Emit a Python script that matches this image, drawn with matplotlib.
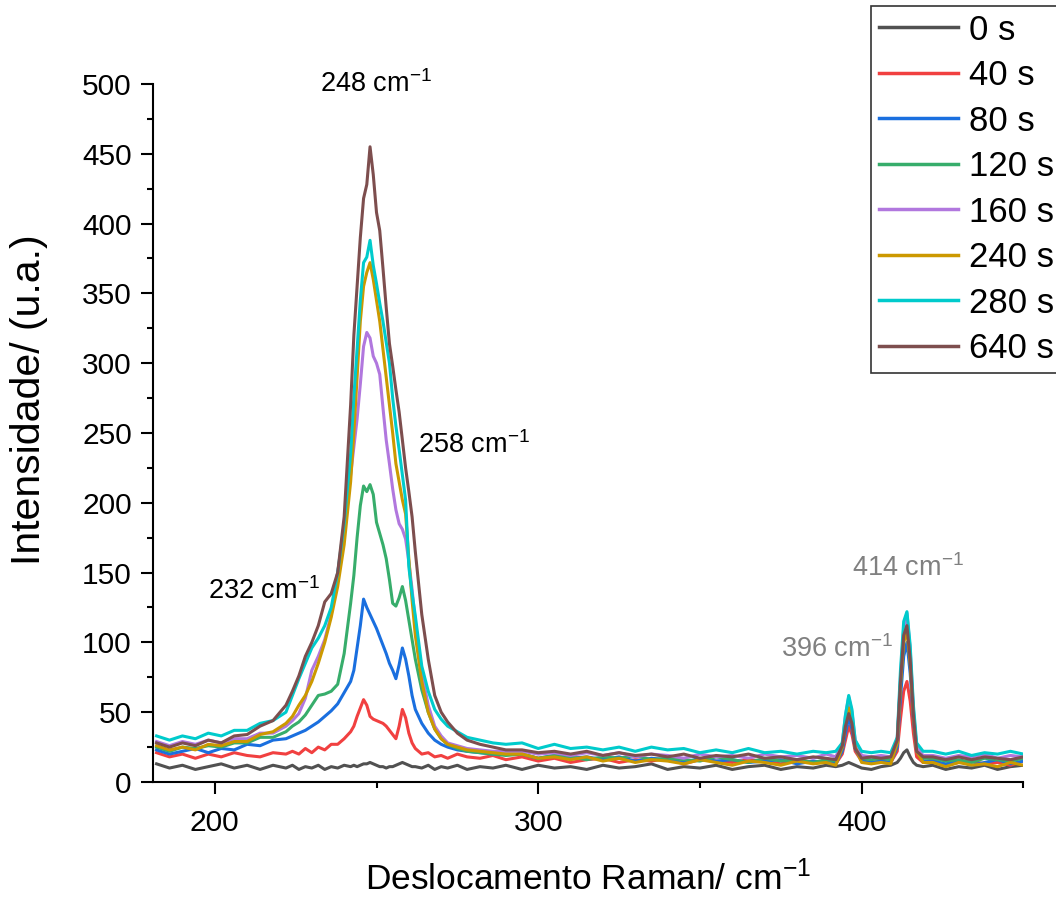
import numpy as np
import matplotlib
matplotlib.use('Agg')
import matplotlib.pyplot as plt
from matplotlib.ticker import MultipleLocator

plt.rcParams['font.family'] = ['Liberation Sans', 'DejaVu Sans']
plt.rcParams['mathtext.fontset'] = 'custom'
plt.rcParams['mathtext.rm'] = 'Liberation Sans'
plt.rcParams['mathtext.it'] = 'Liberation Sans'

# %% Data, shared Raman shift axis in cm-1
shift = [182, 186, 190, 194, 198, 202, 206, 210, 214, 218, 222,
         224, 226, 228, 230, 232, 234, 236, 238, 240,
         242, 243, 244, 245, 246, 247, 248, 249, 250, 251, 252, 253, 254, 255, 256, 257, 258, 259, 260, 261, 262,
         264, 266, 268, 270, 272, 275, 278, 282, 286, 290,
         295, 300, 305, 310, 315, 320, 325, 330, 335, 340, 345, 350, 355, 360, 365, 370, 375, 380, 385, 389, 392,
         394, 395, 396, 397, 398, 400, 403, 406, 409,
         411, 412, 413, 414, 415, 416, 417, 419,
         422, 426, 430, 434, 438, 442, 446, 450]

labels = ['0 s', '40 s', '80 s', '120 s', '160 s', '240 s', '280 s', '640 s']
colors = ['#515151', '#F14040', '#1A6FDF', '#37AD6B', '#B177DE', '#CC9900', '#00CBCC', '#7D4E4E']

s0 = [13, 10, 12, 9, 11, 13, 10, 12, 9, 12, 10,
      12, 9, 11, 10, 12, 9, 11, 10, 12,
      11, 12, 11, 12, 13, 13, 14, 13, 12, 11, 11, 10, 11, 11, 12, 13, 14, 13, 12, 11, 11,
      10, 12, 9, 11, 10, 12, 9, 11, 10, 12,
      9, 12, 10, 11, 9, 12, 10, 11, 13, 9, 11, 10, 12, 9, 11, 12, 9, 11, 10, 12, 11,
      12, 13, 14, 13, 12, 10, 9, 11, 12,
      14, 17, 21, 23, 18, 14, 12, 11,
      12, 9, 11, 10, 12, 9, 11, 12]

s40 = [21, 18, 20, 17, 20, 18, 21, 19, 18, 21, 20,
       22, 20, 24, 21, 25, 23, 27, 27, 31,
       36, 40, 47, 53, 59, 55, 47, 45, 44, 43, 42, 40, 37, 34, 31, 40, 52, 46, 35, 28, 24,
       20, 21, 18, 19, 17, 20, 18, 17, 19, 16,
       18, 15, 17, 14, 16, 17, 14, 16, 15, 17, 13, 16, 15, 14, 16, 15, 13, 16, 14, 15, 13,
       20, 30, 40, 34, 22, 15, 14, 15, 14,
       22, 45, 65, 72, 58, 35, 18, 14,
       16, 12, 14, 15, 13, 14, 12, 15]

s80 = [23, 20, 22, 24, 21, 24, 23, 27, 26, 30, 31,
       33, 35, 37, 40, 43, 47, 51, 56, 64,
       72, 80, 96, 112, 131, 125, 120, 115, 110, 104, 98, 92, 85, 80, 74, 84, 96, 88, 76, 62, 52,
       42, 35, 30, 27, 25, 23, 22, 21, 20, 20,
       20, 17, 19, 17, 18, 16, 18, 15, 17, 16, 14, 17, 15, 16, 14, 15, 16, 13, 15, 14, 13,
       22, 35, 46, 38, 24, 15, 14, 15, 14,
       25, 60, 90, 100, 78, 45, 22, 15,
       15, 13, 15, 12, 14, 16, 13, 15]

s120 = [25, 22, 25, 24, 26, 25, 28, 28, 32, 32, 36,
        40, 43, 48, 55, 62, 63, 65, 70, 92,
        128, 148, 175, 198, 212, 208, 213, 206, 186, 178, 170, 160, 145, 128, 126, 132, 140, 130, 116, 102, 88,
        66, 50, 38, 31, 27, 24, 22, 21, 20, 19,
        20, 17, 19, 18, 16, 18, 17, 19, 16, 17, 16, 15, 18, 16, 14, 17, 15, 16, 14, 16, 15,
        25, 42, 55, 45, 26, 17, 16, 17, 16,
        28, 70, 105, 115, 90, 50, 24, 17,
        17, 15, 16, 14, 17, 16, 15, 17]

s160 = [29, 26, 29, 27, 30, 28, 31, 31, 35, 35, 40,
        44, 49, 60, 80, 90, 102, 120, 150, 180,
        220, 240, 260, 285, 312, 322, 318, 305, 300, 292, 268, 245, 228, 210, 195, 185, 181, 174, 158, 138, 115,
        78, 55, 40, 33, 28, 26, 24, 23, 22, 22,
        22, 20, 21, 19, 21, 19, 21, 18, 20, 19, 17, 20, 18, 19, 17, 20, 18, 19, 17, 20, 18,
        28, 48, 61, 50, 30, 19, 18, 19, 18,
        30, 75, 110, 121, 95, 52, 25, 19,
        19, 17, 19, 18, 20, 17, 19, 18]

s240 = [26, 23, 25, 23, 27, 26, 29, 29, 34, 36, 42,
        47, 55, 62, 72, 85, 100, 118, 140, 170,
        215, 250, 290, 330, 355, 365, 372, 360, 345, 330, 310, 290, 270, 250, 228, 215, 202, 192, 160, 130, 105,
        72, 50, 38, 31, 27, 25, 23, 22, 21, 20,
        20, 17, 18, 16, 18, 15, 17, 14, 16, 15, 13, 16, 14, 12, 15, 14, 12, 15, 13, 14, 12,
        25, 42, 53, 44, 25, 14, 13, 14, 13,
        28, 70, 100, 108, 85, 48, 22, 14,
        14, 11, 14, 12, 13, 11, 14, 12]

s280 = [33, 30, 33, 31, 35, 33, 37, 37, 42, 44, 50,
        62, 74, 85, 96, 103, 112, 125, 150, 185,
        235, 276, 310, 345, 372, 376, 388, 370, 357, 343, 330, 315, 300, 275, 255, 238, 220, 202, 154, 135, 119,
        83, 65, 52, 45, 40, 36, 32, 30, 28, 27,
        28, 24, 27, 24, 25, 23, 25, 22, 25, 23, 24, 21, 23, 21, 24, 21, 22, 20, 22, 21, 22,
        28, 48, 62, 52, 30, 22, 21, 22, 21,
        32, 80, 115, 122, 98, 55, 28, 22,
        22, 20, 22, 19, 21, 20, 22, 20]

s640 = [28, 25, 28, 26, 30, 28, 33, 34, 40, 44, 55,
        65, 76, 90, 100, 112, 129, 135, 150, 190,
        270, 320, 355, 390, 418, 428, 455, 435, 408, 395, 368, 340, 314, 298, 281, 265, 245, 225, 208, 190, 165,
        120, 88, 62, 50, 43, 35, 30, 27, 25, 23,
        23, 21, 22, 20, 22, 19, 21, 19, 20, 18, 20, 17, 19, 18, 20, 17, 18, 16, 18, 17, 16,
        26, 40, 49, 42, 24, 17, 18, 17, 18,
        30, 72, 105, 112, 88, 48, 22, 18,
        18, 16, 18, 16, 18, 17, 16, 18]

series = [s0, s40, s80, s120, s160, s240, s280, s640]

# peak annotations: (text, x, y, colour)
notes = [('248 cm$^{-1}$', 249.8, 500, 'black'),
         ('258 cm$^{-1}$', 262.8, 241, 'black'),
         ('232 cm$^{-1}$', 197.8, 137, 'black'),
         ('396 cm$^{-1}$', 375.0, 95, '#808080'),
         ('414 cm$^{-1}$', 397.0, 153, '#808080')]

# %% Plot
fig = plt.figure(figsize=(10.56, 8.97), dpi=100)
ax = fig.add_axes([0.1452, 0.1282, 0.8239, 0.7782])

for y, lab, c in zip(series, labels, colors):
    ax.plot(shift, y, color=c, lw=2.2, label=lab)

ax.set_xlim(181, 450)
ax.set_ylim(0, 500)
ax.xaxis.set_major_locator(MultipleLocator(100))
ax.xaxis.set_minor_locator(MultipleLocator(50))
ax.yaxis.set_major_locator(MultipleLocator(50))
ax.yaxis.set_minor_locator(MultipleLocator(25))

for side in ['top', 'right']:
    ax.spines[side].set_visible(False)
for side in ['left', 'bottom']:
    ax.spines[side].set_linewidth(1.5)

ax.tick_params(which='major', direction='out', length=8.5, width=1.5, labelsize=21.5)
ax.tick_params(which='minor', direction='out', length=4.5, width=1.5)
ax.tick_params(axis='x', which='major', pad=11)
ax.tick_params(axis='y', which='major', pad=7)

ax.set_xlabel('Deslocamento Raman/ cm$^{-1}$', fontsize=25.5, labelpad=17)
ax.set_ylabel('Intensidade/ (u.a.)', fontsize=29.5)
ax.yaxis.set_label_coords(-0.121, 0.548)

for txt, xt, yt, c in notes:
    ha = 'center' if txt.startswith('248') else 'left'
    ax.text(xt, yt, txt, color=c, fontsize=19.5, ha=ha, va='center')

leg = ax.legend(loc='upper left', bbox_to_anchor=(0.8248, 0.9933), bbox_transform=fig.transFigure,
                fontsize=25, frameon=True, fancybox=False, framealpha=1, edgecolor='#333333',
                handlelength=2.3, handletextpad=0.3, labelspacing=0.36, borderpad=0.22, borderaxespad=0)
leg.get_frame().set_linewidth(1.2)
for h in leg.get_lines():
    h.set_linewidth(2.5)

fig.savefig('out.png', dpi=100)
